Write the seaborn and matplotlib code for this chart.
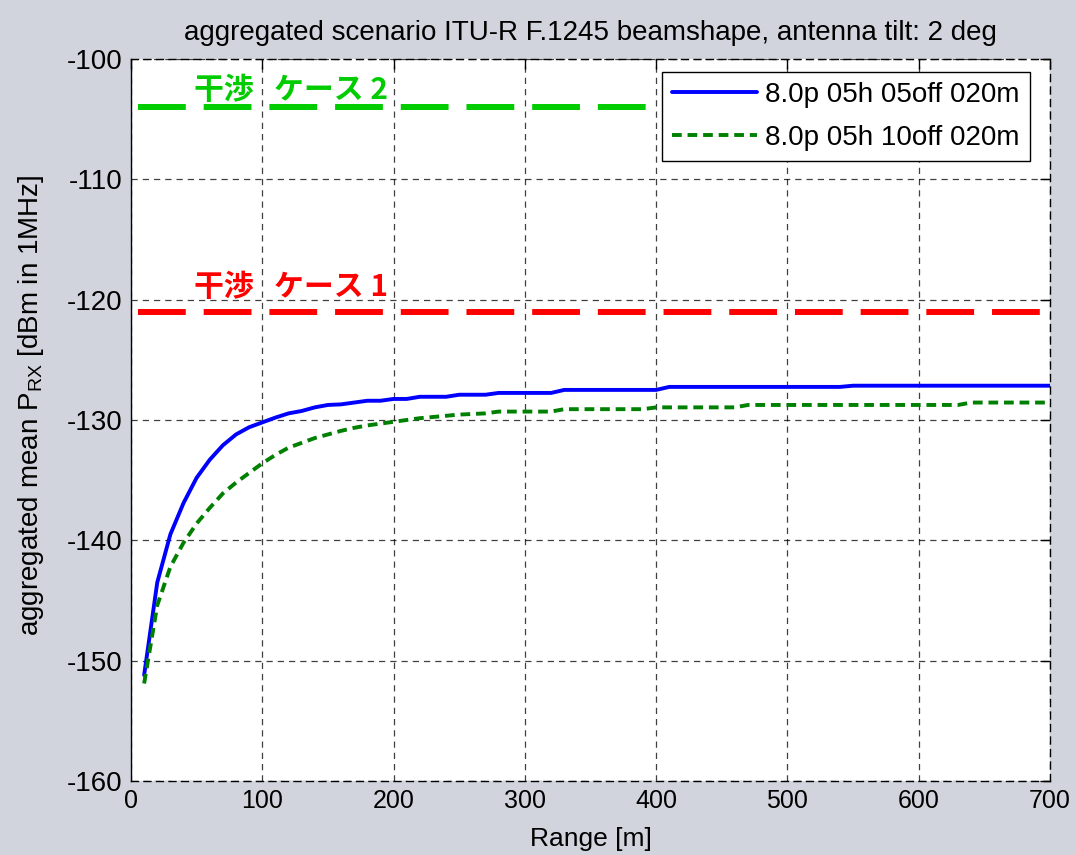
import numpy as np
import pandas as pd
import matplotlib
matplotlib.use("Agg")
import matplotlib.pyplot as plt
import seaborn as sns

# ---------------- data ----------------
range_m = list(range(10, 701, 10))

blue_05off = [
    -151.2, -143.5, -139.5, -136.9, -134.8, -133.3, -132.1, -131.2, -130.6, -130.2,  # 10-100
    -129.8, -129.45, -129.25, -128.95, -128.75, -128.7, -128.55, -128.4, -128.4, -128.25,  # 110-200
    -128.25, -128.07, -128.07, -128.07, -127.9, -127.9, -127.9, -127.75, -127.75, -127.75,  # 210-300
    -127.75, -127.75, -127.5, -127.5, -127.5, -127.5, -127.5, -127.5, -127.5, -127.5,  # 310-400
    -127.25, -127.25, -127.25, -127.25, -127.25, -127.25, -127.25, -127.25, -127.25, -127.25,  # 410-500
    -127.25, -127.25, -127.25, -127.25, -127.15, -127.15, -127.15, -127.15, -127.15, -127.15,  # 510-600
    -127.15, -127.15, -127.15, -127.15, -127.15, -127.15, -127.15, -127.15, -127.15, -127.15,  # 610-700
]

green_10off = [
    -151.9, -145.4, -142.2, -140.2, -138.6, -137.3, -136.1, -135.2, -134.4, -133.6,  # 10-100
    -132.9, -132.3, -131.9, -131.5, -131.2, -130.9, -130.65, -130.45, -130.3, -130.15,  # 110-200
    -130.0, -129.85, -129.75, -129.65, -129.55, -129.5, -129.45, -129.3, -129.3, -129.3,  # 210-300
    -129.3, -129.3, -129.1, -129.1, -129.1, -129.1, -129.1, -129.1, -129.1, -128.95,  # 310-400
    -128.95, -128.95, -128.95, -128.95, -128.95, -128.95, -128.75, -128.75, -128.75, -128.75,  # 410-500
    -128.75, -128.75, -128.75, -128.75, -128.75, -128.75, -128.75, -128.75, -128.75, -128.75,  # 510-600
    -128.75, -128.75, -128.75, -128.55, -128.55, -128.55, -128.55, -128.55, -128.55, -128.55,  # 610-700
]

series_labels = ["8.0p 05h 05off 020m", "8.0p 05h 10off 020m"]

case_levels = [-104.0, -121.0]          # 干渉 ケース 2, 干渉 ケース 1
case_labels = ["干渉   ケース 2", "干渉   ケース 1"]
case_x_ranges = [(5, 400), (5, 700)]

title_text = "aggregated scenario ITU-R F.1245 beamshape, antenna tilt: 2 deg"
x_label = "Range [m]"
y_label = r"aggregated mean P$_{\mathrm{RX}}$ [dBm in 1MHz]"
x_ticks = [0, 100, 200, 300, 400, 500, 600, 700]
y_ticks = [-160, -150, -140, -130, -120, -110, -100]

# ---------------- style ----------------
sns.set_theme(style="white")
plt.rcParams['font.family'] = ['Liberation Sans', 'DejaVu Sans']
plt.rcParams['mathtext.default'] = 'regular'
plt.rcParams['mathtext.fontset'] = 'custom'
plt.rcParams['mathtext.rm'] = 'Liberation Sans'
plt.rcParams['text.color'] = 'black'
plt.rcParams['axes.labelcolor'] = 'black'
plt.rcParams['xtick.color'] = 'black'
plt.rcParams['ytick.color'] = 'black'

FS = 20
bg = '#d1d4dc'
fig = plt.figure(figsize=(10.76, 8.55), dpi=100, facecolor=bg)
ax = fig.add_axes([131/1076, 1 - 781/855, (1050-131)/1076, (781-59)/855])
ax.set_facecolor('white')

df = pd.DataFrame({
    "range": range_m * 2,
    "prx": blue_05off + green_10off,
    "series": [series_labels[0]] * len(range_m) + [series_labels[1]] * len(range_m),
})

sns.lineplot(data=df[df.series == series_labels[0]], x="range", y="prx",
             color=(0, 0, 1), lw=2.8, ax=ax, label=series_labels[0], estimator=None)
sns.lineplot(data=df[df.series == series_labels[1]], x="range", y="prx",
             color=(0, 0.5, 0), lw=2.8, ax=ax, label=series_labels[1], estimator=None,
             dashes=False)
ax.lines[1].set_dashes((2.5, 1.5))

# interference case lines
case_colors = [(0, 0.8, 0), (1, 0, 0)]
label_offsets = [0.7, 1.3]
for lvl, lab, (x0, x1), c, off in zip(case_levels, case_labels, case_x_ranges,
                                       case_colors, label_offsets):
    ax.plot([x0, x1], [lvl, lvl], color=c, lw=4.3, dashes=(8, 3),
            dash_capstyle='butt', zorder=3)
    ax.text(48, lvl + off, lab, color=c, fontsize=21.5, fontweight='bold',
            family=['Noto Sans CJK JP', 'DejaVu Sans'], ha='left', va='baseline', zorder=4)

ax.set_xlim(0, 700)
ax.set_ylim(-160, -100)
ax.set_xticks(x_ticks)
ax.set_yticks(y_ticks)
ax.set_xticklabels([str(t) for t in x_ticks], fontsize=18)
ax.set_yticklabels([str(t) for t in y_ticks], fontsize=FS)
ax.tick_params(direction='in', length=7, width=1, top=True, right=True, colors='black',
               pad=6)
ax.grid(True, color='black', linestyle=(0, (5, 4)), lw=0.9, alpha=0.75)

for s in ax.spines.values():
    s.set_color('black')
    s.set_linewidth(1.0)
ax.spines['top'].set_linestyle((0, (5, 4)))
ax.spines['right'].set_linestyle((0, (5, 4)))
ax.spines['bottom'].set_linestyle((0, (5, 4)))

ax.set_xlabel(x_label, fontsize=19, labelpad=10)
ax.set_ylabel(y_label, fontsize=FS)
ax.yaxis.set_label_coords(-0.092, 0.52)
ax.set_title(title_text, fontsize=FS, pad=14)

leg = ax.legend(loc='upper right', fontsize=FS, frameon=True, fancybox=False,
                edgecolor='black', handlelength=3.05, borderpad=0.36,
                bbox_to_anchor=(0.978, 0.982), borderaxespad=0.0,
                labelspacing=0.6, handletextpad=0.3)
leg.get_frame().set_linewidth(1.0)
leg.get_frame().set_alpha(1)

fig.savefig("out.png", dpi=100, facecolor=bg)
